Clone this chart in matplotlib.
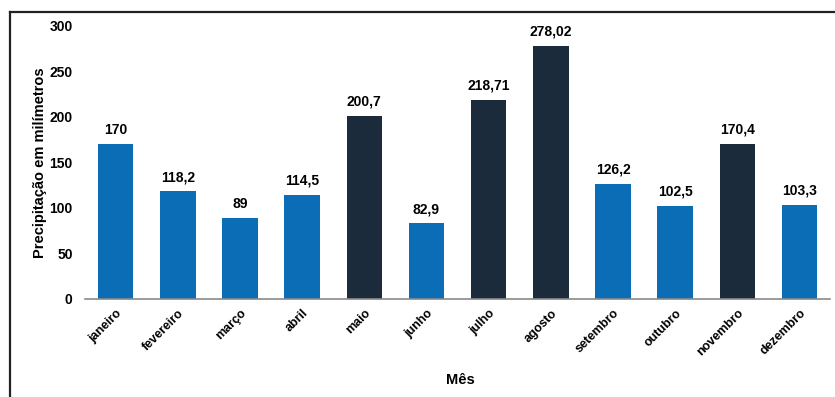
import matplotlib.pyplot as plt
from matplotlib.lines import Line2D

plt.rcParams['font.family'] = ['Liberation Sans', 'DejaVu Sans']

meses = ["janeiro", "fevereiro", "março", "abril", "maio", "junho",
         "julho", "agosto", "setembro", "outubro", "novembro", "dezembro"]
precipitacao = [170, 118.2, 89, 114.5, 200.7, 82.9,
                218.71, 278.02, 126.2, 102.5, 170.4, 103.3]
rotulos = ["170", "118,2", "89", "114,5", "200,7", "82,9",
           "218,71", "278,02", "126,2", "102,5", "170,4", "103,3"]
destaque = ["maio", "julho", "agosto", "novembro"]

azul = "#0A6DB5"
escuro = "#1B2B3B"
cores = [escuro if m in destaque else azul for m in meses]

fig = plt.figure(figsize=(8.35, 3.97), dpi=100)
ax = fig.add_axes([0.102, 0.247, 0.892, 0.688])

x = range(len(meses))
bars = ax.bar(x, precipitacao, width=0.57, color=cores, zorder=2)
for b, txt in zip(bars, rotulos):
    ax.text(b.get_x() + b.get_width() / 2, b.get_height() + 8, txt,
            ha="center", va="bottom", fontsize=10, fontweight="bold")

ax.set_xlim(-0.49, 11.49)
ax.set_ylim(0, 300)
ax.set_yticks([0, 50, 100, 150, 200, 250, 300])
ax.set_xticks(list(x))
ax.set_xticklabels(meses, rotation=45, ha="right", rotation_mode="anchor",
                   fontsize=9, fontweight="bold")
ax.tick_params(axis="y", length=0, labelsize=10, pad=9)
ax.tick_params(axis="x", length=0, pad=6)
for lbl in ax.get_yticklabels():
    lbl.set_fontweight("bold")

for s in ["top", "right", "left"]:
    ax.spines[s].set_visible(False)
ax.spines["bottom"].set_color("#8a8a8a")
ax.spines["bottom"].set_linewidth(1.2)

ax.set_ylabel("Precipitação em milímetros", fontsize=10.5, fontweight="bold")
ax.yaxis.set_label_coords(-0.051, 0.5)
fig.text(0.551, 0.042, "Mês", ha="center", va="center", fontsize=10.5, fontweight="bold")

# moldura parcial (topo e esquerda)
fig.add_artist(Line2D([0.012, 1.0], [0.970, 0.970], color="#222222", lw=1.6))
fig.add_artist(Line2D([0.012, 0.012], [0.0, 0.970], color="#222222", lw=1.6))

fig.savefig("out.png", dpi=100)
